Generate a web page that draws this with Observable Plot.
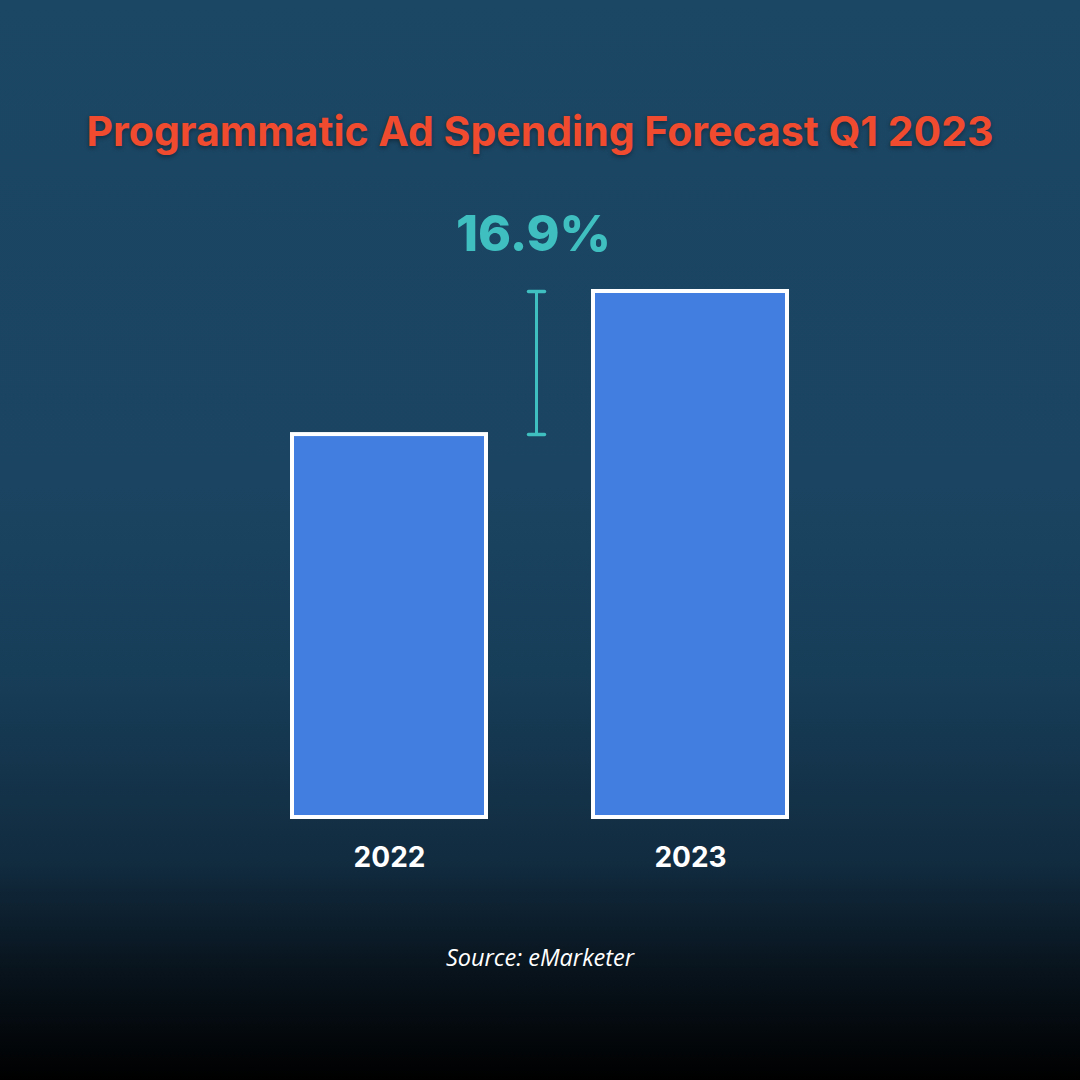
<!DOCTYPE html>
<html>
<head>
<meta charset="utf-8">
<script src="https://cdn.jsdelivr.net/npm/d3@7"></script>
<script src="https://cdn.jsdelivr.net/npm/@observablehq/plot@0.6"></script>
<style>
  html, body { margin: 0; padding: 0; }
  #wrap {
    position: relative; width: 1080px; height: 1080px; overflow: hidden;
    background: linear-gradient(to bottom, #1b4664 0%, #1a4461 45%, #173e59 62%, #112b3f 80%, #08131c 90%, #000000 100%);
    font-family: Inter, "Open Sans", sans-serif;
  }
  #title {
    position: absolute; left: 0; width: 1080px; top: 106px; text-align: center;
    color: #f04b2f; font-weight: 700; font-size: 41px; letter-spacing: 0px;
    text-shadow: 0 2px 4px rgba(0,0,0,0.35);
  }
  #chart { position: absolute; left: 0; top: 180px; }
  #source {
    position: absolute; left: 0; width: 1080px; top: 941px; text-align: center;
    color: #ffffff; font-style: italic; font-size: 23.5px; font-family: "Open Sans", Lato, sans-serif;
  }
</style>
</head>
<body>
<div id="wrap">
  <div id="title">Programmatic Ad Spending Forecast Q1 2023</div>
  <div id="chart"></div>
  <div id="source">Source: eMarketer</div>
</div>
<script>
// Data (relative bar heights; 2023 = 100)
const years = ["2022", "2023"];
const values = [72.8, 100];
const growthLabel = "16.9%";

const data = years.map((y, i) => ({year: y, value: values[i]}));
const bracket = [{x: years[0], y1: values[0], y2: values[1], label: growthLabel}];
const caps = [{x: years[0], y: values[0]}, {x: years[0], y: values[1]}];

// horizontal-line symbol for the bracket caps
const hline = {
  draw(context, size) {
    const w = Math.sqrt(size) / 2;
    context.moveTo(-w, 0);
    context.lineTo(w, 0);
  }
};

const plot = Plot.plot({
  width: 1080,
  height: 720,
  marginLeft: 186.5,
  marginRight: 187,
  marginTop: 111,
  marginBottom: 83,
  style: {background: "transparent", color: "#ffffff", fontFamily: "Inter, sans-serif"},
  x: {domain: years, padding: 0.343, label: null},
  y: {domain: [0, 100], axis: null},
  marks: [
    Plot.barY(data, {x: "year", y: "value", fill: "#417ee0", stroke: "#ffffff", strokeWidth: 4, insetLeft: 2, insetRight: 2}),
    Plot.link(bracket, {x1: "x", x2: "x", y1: "y1", y2: "y2", dx: 147, stroke: "#3fbfc0", strokeWidth: 3}),
    Plot.dot(caps, {x: "x", y: "y", dx: 147, symbol: hline, r: 9, stroke: "#3fbfc0", strokeWidth: 3.5, strokeLinecap: "round"}),
    Plot.text(bracket, {x: "x", y: "y2", text: "label", dx: 144, dy: -57, fill: "#3fbfc0", fontSize: 50, fontWeight: 800}),
    Plot.axisX({tickSize: 0, tickPadding: 30, fontSize: 28, fontWeight: 700, fill: "#ffffff", label: null})
  ]
});
document.getElementById("chart").appendChild(plot);
</script>
</body>
</html>
